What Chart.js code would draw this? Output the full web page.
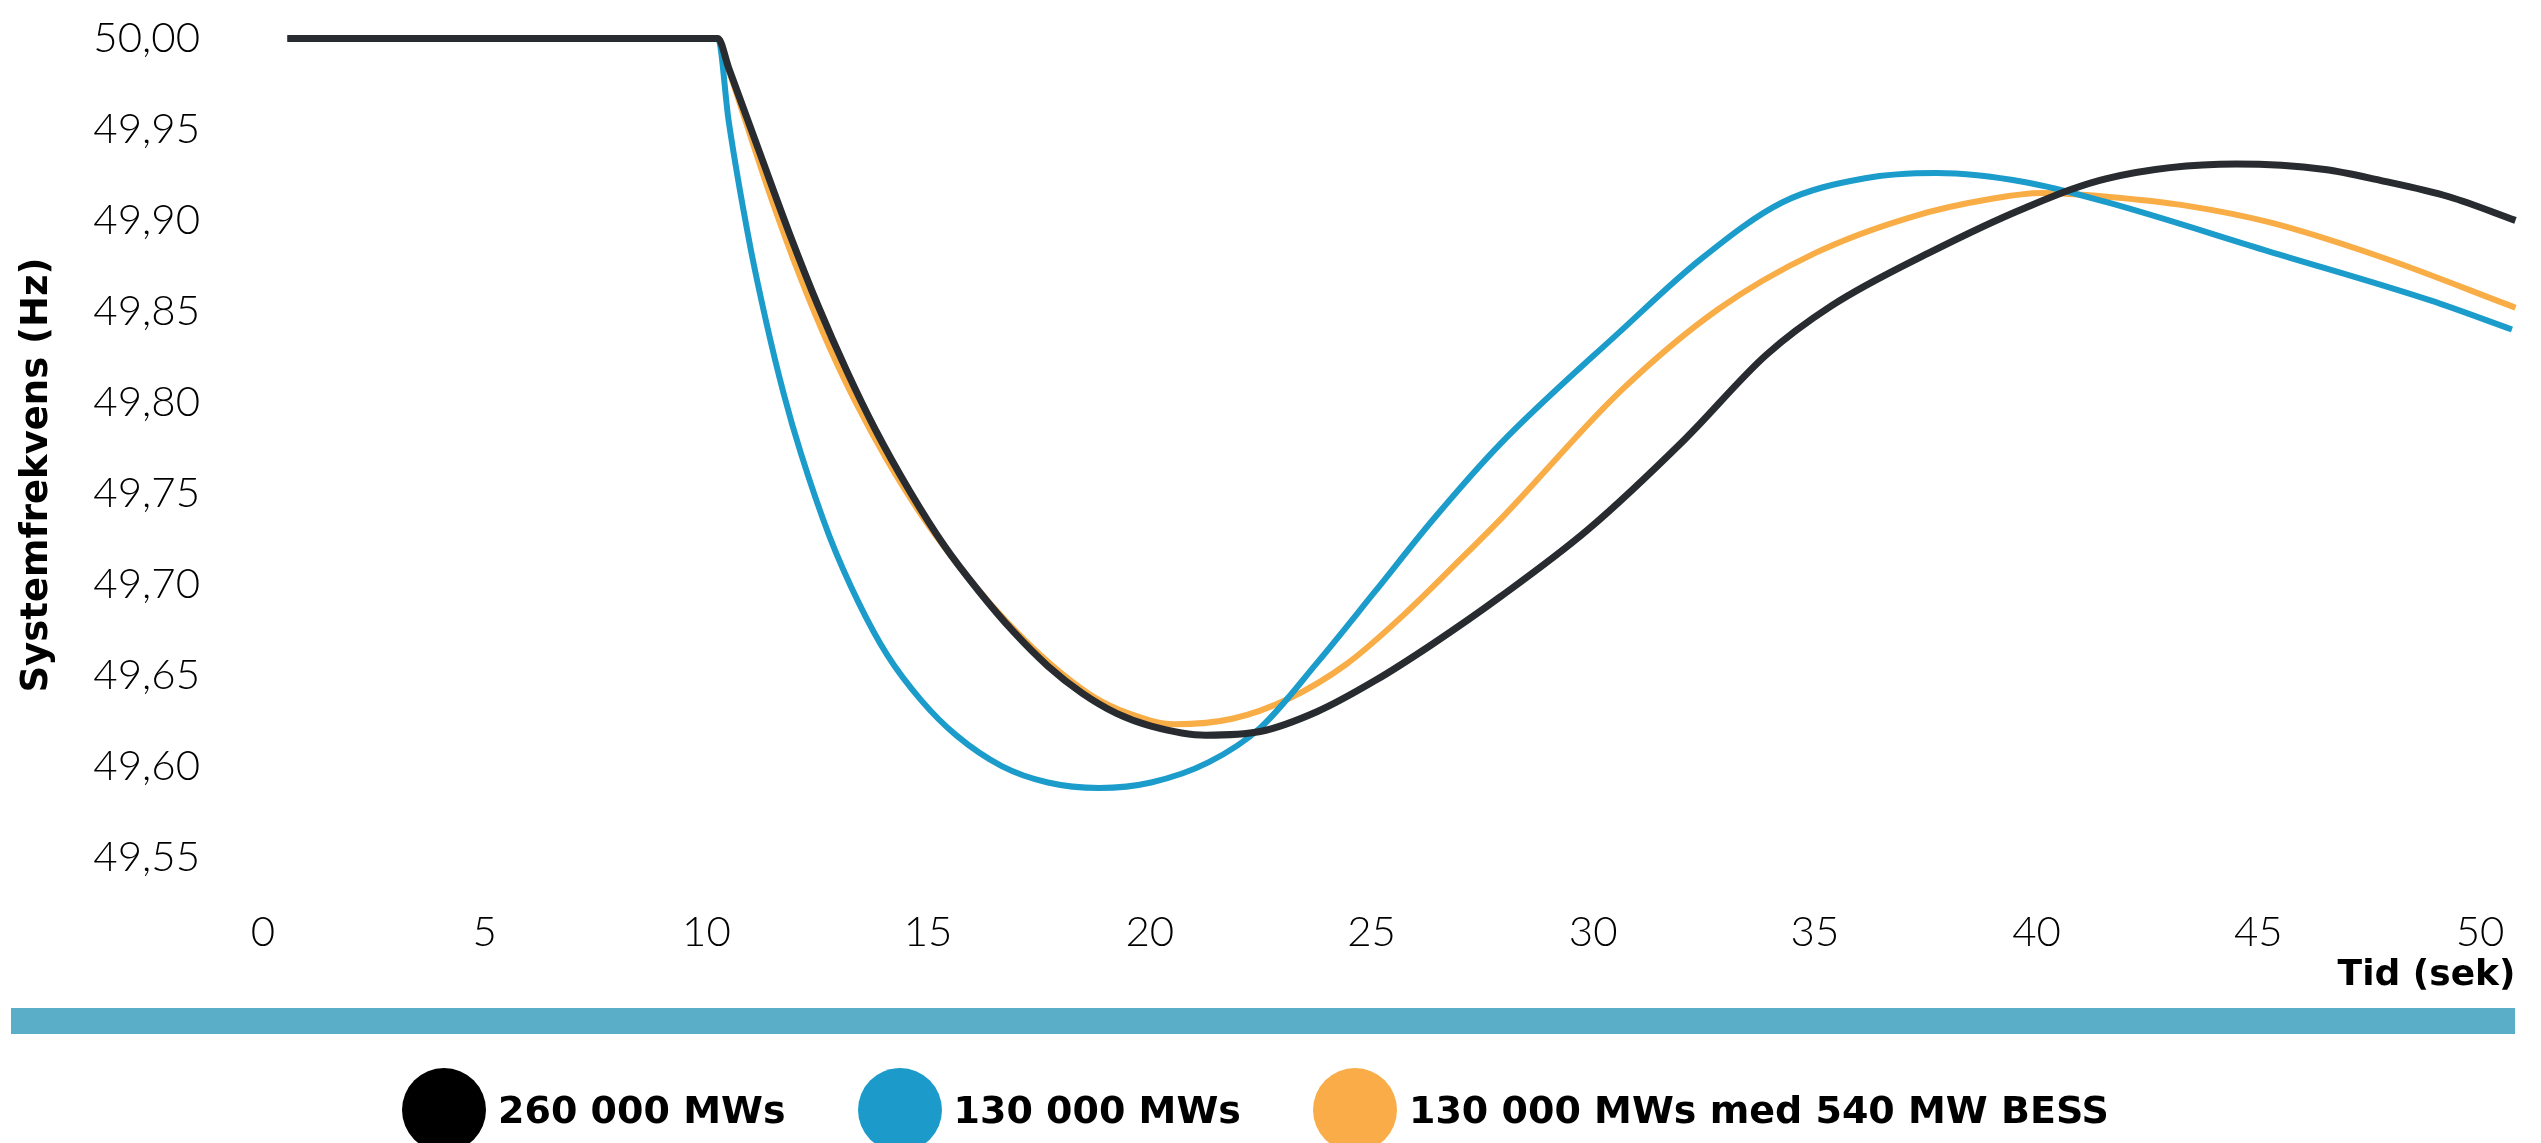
<!DOCTYPE html>
<html>
<head>
<meta charset="utf-8">
<script src="https://cdn.jsdelivr.net/npm/chart.js@4.4.1/dist/chart.umd.min.js"></script>
<style>
    html, body { margin: 0; padding: 0; background: #fff; overflow: hidden; }
    #wrap { position: relative; width: 2541px; height: 1143px; }
    #freqChart { position: absolute; left: 0; top: 0; }
    #legend {
        position: absolute; left: 0; top: 1068px; width: 2541px;
        display: flex; justify-content: center; box-sizing: border-box; padding-right: 30px;
        font-family: "DejaVu Sans", sans-serif; font-weight: bold; font-size: 38px; color: #000;
    }
    .item { display: flex; align-items: center; height: 84px; margin: 0 36px; }
    .dot { width: 84px; height: 84px; border-radius: 50%; margin-right: 12px; }
</style>
</head>
<body>
<div id="wrap">
    <canvas id="freqChart" width="2541" height="1143"></canvas>
    <div id="legend"></div>
</div>
<script>
// values (time in s, frequency in Hz)
const seriesNames = ['260 000 MWs', '130 000 MWs', '130 000 MWs med 540 MW BESS'];
const lineColours = ['#282b2f', '#1b9ccb', '#f9ad46'];
const dotColours = ['#000000', '#1c9bcb', '#f9ac47'];

const blackTime = [0.55, 10.26, 10.5, 11.22, 11.87, 12.52, 13.17, 13.81, 14.59, 15.37, 16.15, 16.92, 17.7, 18.48, 19.25, 20.03, 21.26, 22.49, 23.78, 25.08, 26.37, 27.9, 29.88, 32.08, 33.9, 35.37, 37.56, 39.75, 41.58, 44.5, 46.5, 47.75, 49.3, 50.8];
const blackFreq = [50, 50, 49.984, 49.936, 49.893, 49.853, 49.817, 49.785, 49.751, 49.721, 49.696, 49.674, 49.655, 49.640, 49.629, 49.622, 49.617, 49.619, 49.630, 49.647, 49.667, 49.693, 49.730, 49.780, 49.826, 49.853, 49.882, 49.907, 49.923, 49.931, 49.928, 49.922, 49.913, 49.900];

const blueTime = [0.55, 10.26, 10.5, 10.97, 11.36, 11.74, 12.13, 12.78, 13.43, 14.08, 14.85, 15.63, 16.66, 17.7, 18.86, 20.03, 21.32, 22.49, 23.78, 25.08, 26.37, 27.9, 30.61, 32.44, 34.27, 36.1, 37.74, 39.75, 41.58, 45.23, 48.88, 50.72];
const blueFreq = [50, 50, 49.955, 49.888, 49.843, 49.805, 49.772, 49.726, 49.690, 49.661, 49.636, 49.617, 49.600, 49.591, 49.588, 49.591, 49.602, 49.621, 49.657, 49.696, 49.735, 49.777, 49.839, 49.879, 49.910, 49.923, 49.926, 49.921, 49.910, 49.883, 49.856, 49.840];

const orangeTime = [0.55, 10.26, 10.5, 11.48, 12.13, 12.78, 13.43, 14.08, 14.85, 15.63, 16.41, 17.19, 17.96, 18.74, 19.52, 20.56, 21.86, 23.13, 24.43, 25.72, 27.02, 28.0, 30.61, 32.81, 35.0, 37.19, 39.02, 40.12, 41.58, 43.4, 45.24, 47.75, 50.8];
const orangeFreq = [50, 50, 49.983, 49.911, 49.868, 49.830, 49.797, 49.768, 49.738, 49.712, 49.689, 49.669, 49.652, 49.638, 49.629, 49.623, 49.626, 49.637, 49.656, 49.683, 49.714, 49.738, 49.806, 49.851, 49.882, 49.902, 49.912, 49.915, 49.913, 49.908, 49.899, 49.880, 49.852];

const xTicks = [0, 5, 10, 15, 20, 25, 30, 35, 40, 45, 50];
const yTicks = [49.55, 49.60, 49.65, 49.70, 49.75, 49.80, 49.85, 49.90, 49.95, 50.00];

function toPoints(times, values) {
    return times.map((t, i) => ({ x: t, y: values[i] }));
}

const bandPlugin = {
    id: 'band',
    afterDraw(chart) {
        const ctx = chart.ctx;
        ctx.save();
        ctx.fillStyle = '#5baec8';
        ctx.fillRect(11, 1008, 2504, 26);
        ctx.restore();
    },
};

function createFrequencyChart() {
    const series = [[blackTime, blackFreq], [blueTime, blueFreq], [orangeTime, orangeFreq]];
    const data = {
        datasets: series.map(([times, values], i) => ({
            label: seriesNames[i],
            data: toPoints(times, values),
            borderColor: lineColours[i],
            borderWidth: i === 0 ? 7 : 6,
            pointRadius: 0,
            cubicInterpolationMode: 'monotone',
            clip: false,
        })),
    };

    const tickFont = { family: 'Lato, sans-serif', weight: 300, size: 42, lineHeight: 1 };
    const titleFont = { family: '"DejaVu Sans", sans-serif', weight: 'bold', size: 37 };

    const ctx = document.querySelector('#freqChart').getContext('2d');
    new Chart(ctx, {
        type: 'line',
        data,
        plugins: [bandPlugin],
        options: {
            responsive: false,
            animation: false,
            events: [],
            layout: { padding: { top: 38.5, right: 25.5, bottom: 143, left: 0 } },
            plugins: { legend: { display: false }, tooltip: { enabled: false } },
            scales: {
                x: {
                    type: 'linear',
                    min: 0,
                    max: 50.8,
                    grid: { display: false, drawTicks: false },
                    border: { display: false },
                    afterBuildTicks: (scale) => { scale.ticks = xTicks.map((v) => ({ value: v })); },
                    afterFit: (scale) => {
                        scale.height = 1000 - 911.6;
                        scale.paddingLeft = 0;
                        scale.paddingRight = 0;
                    },
                    ticks: { color: '#000', font: tickFont, padding: 0, maxRotation: 0, autoSkip: false },
                    title: {
                        display: true, text: 'Tid (sek)', align: 'end', color: '#000',
                        font: { family: '"DejaVu Sans", sans-serif', weight: 'bold', size: 36 },
                        padding: { top: 0, bottom: 3 },
                    },
                },
                y: {
                    min: 49.52,
                    max: 50,
                    grid: { display: false, drawTicks: false },
                    border: { display: false },
                    afterBuildTicks: (scale) => { scale.ticks = yTicks.map((v) => ({ value: v })); },
                    afterFit: (scale) => {
                        scale.width = 263;
                        scale.paddingTop = 0;
                        scale.paddingBottom = 0;
                    },
                    ticks: {
                        color: '#000', font: tickFont, padding: 63,
                        callback: (v) => v.toFixed(2).replace('.', ','),
                    },
                    title: {
                        display: true, text: 'Systemfrekvens (Hz)', color: '#000',
                        font: titleFont, padding: { top: 15, bottom: 0 },
                    },
                },
            },
        },
    });
}

function createLegend() {
    const legend = document.getElementById('legend');
    seriesNames.forEach((name, i) => {
        const item = document.createElement('div');
        item.className = 'item';
        const dot = document.createElement('span');
        dot.className = 'dot';
        dot.style.background = dotColours[i];
        const label = document.createElement('span');
        label.textContent = name;
        item.appendChild(dot);
        item.appendChild(label);
        legend.appendChild(item);
    });
}

createFrequencyChart();
createLegend();
</script>
</body>
</html>
